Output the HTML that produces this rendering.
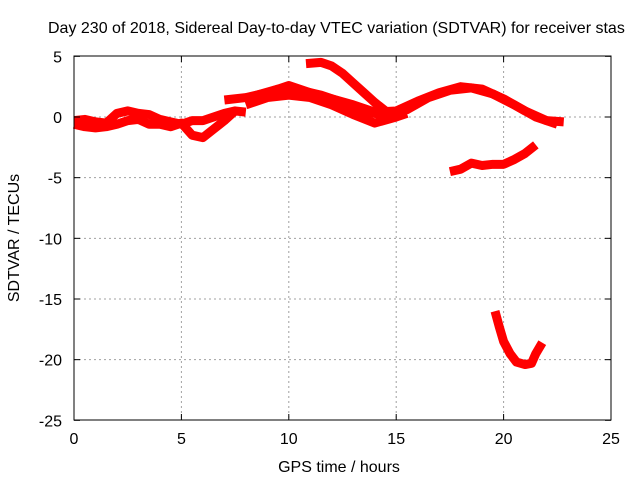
<!DOCTYPE html>
<html><head><meta charset="utf-8"><style>
body{margin:0;background:#fff}
svg text{font-family:"Liberation Sans",sans-serif;font-size:16px;fill:#000}
</style></head><body>
<svg width="640" height="480" viewBox="0 0 640 480" xmlns="http://www.w3.org/2000/svg">
<g id="grid"></g>
<g id="series"></g>
<rect x="74" y="56" width="537" height="364" fill="none" stroke="#000" stroke-width="1"/>
<g id="ticks"></g>
<text x="48" y="33">Day 230 of 2018, Sidereal Day-to-day VTEC variation (SDTVAR) for receiver stas</text>
<text x="339" y="472" text-anchor="middle">GPS time / hours</text>
<text transform="translate(19,238) rotate(-90)" text-anchor="middle">SDTVAR / TECUs</text>
</svg>
<script>
const xTicks=[0,5,10,15,20,25];
const yTicks=[5,0,-5,-10,-15,-20,-25];
const sA=[[0,-0.3],[0.5,-0.2],[1,-0.4],[1.5,-0.5],[2,0.3],[2.5,0.5],[3,0.3],[3.5,0.2],[4,-0.2],[4.5,-0.4],[5,-0.6],[5.5,-0.3],[6,-0.3],[6.5,0],[7,0.3],[7.5,0.5],[8,0.4]];
const sB=[[0,-0.6],[0.5,-0.8],[1,-0.9],[1.5,-0.8],[2,-0.6],[2.5,-0.3],[3,-0.2],[3.5,-0.6],[4,-0.6],[4.5,-0.8],[5,-0.5],[5.5,-1.5],[6,-1.7],[6.5,-1.0],[7,-0.3],[7.5,0.5]];
const sC=[[7,1.4],[8,1.6],[9,2.0],[10,2.6],[11,2.0],[12,1.5],[13,1.0],[14,0.4],[15,0.5],[16,1.3],[17,2.0],[18,2.5],[19,2.3],[20,1.5],[21,0.5],[22,-0.3],[22.8,-0.4]];
const sD=[[8,1.0],[9,1.6],[10,1.8],[11,1.6],[12,1.0],[13,0.2],[14,-0.5],[15,0],[15.5,0.3]];
const sH=[[8.5,1.8],[9.5,2.3],[10.5,2.2],[11.5,1.8],[12.5,1.2],[13.5,0.5],[14.5,0.1],[15.5,0.6],[16.5,1.6],[17.5,2.2],[18.5,2.4],[19.5,1.9],[20.5,1.0],[21.5,0],[22.5,-0.6]];
const sE=[[10.8,4.4],[11.5,4.5],[12,4.2],[12.5,3.6],[13,2.8],[13.5,2.0],[14,1.2],[14.5,0.5]];
const sF=[[17.5,-4.5],[18,-4.3],[18.5,-3.8],[19,-4.0],[19.5,-3.9],[20,-3.9],[20.5,-3.5],[21,-3.0],[21.5,-2.3]];
const sG=[[19.6,-16.0],[19.8,-17.3],[20,-18.5],[20.3,-19.5],[20.6,-20.2],[21,-20.4],[21.3,-20.3],[21.5,-19.5],[21.8,-18.6]];
const NS="http://www.w3.org/2000/svg";
const X=v=>74+v*(537/25), Y=v=>117-v*(364/30);
const grid=document.getElementById('grid'),ticks=document.getElementById('ticks'),ser=document.getElementById('series');
function mk(t,a,p){const e=document.createElementNS(NS,t);for(const k in a)e.setAttribute(k,a[k]);p.appendChild(e);return e;}
xTicks.forEach(v=>{
 if(v>0&&v<25){const l=mk('line',{x1:X(v),x2:X(v),y1:56,y2:420,stroke:'#a0a0a0','stroke-dasharray':'2,3'},grid);
 
 }
 const t1=mk('line',{x1:X(v),x2:X(v),y1:420,y2:414,stroke:'#000'},ticks);
 
 
 const t2=mk('line',{x1:X(v),x2:X(v),y1:56,y2:62,stroke:'#000'},ticks);
 
 
 const tx=mk('text',{x:X(v),y:444,'text-anchor':'middle'},ticks);tx.textContent=v;
 
 
});
yTicks.forEach(v=>{
 if(v<5&&v>-25){const l=mk('line',{x1:74,x2:611,y1:Y(v),y2:Y(v),stroke:'#a0a0a0','stroke-dasharray':'2,3'},grid);
 
 }
 const t1=mk('line',{x1:74,x2:80,y1:Y(v),y2:Y(v),stroke:'#000'},ticks);
 
 
 const t2=mk('line',{x1:605,x2:611,y1:Y(v),y2:Y(v),stroke:'#000'},ticks);
 
 
 const tx=mk('text',{x:62,y:Y(v)+6,'text-anchor':'end'},ticks);tx.textContent=v;
 
 
});
[sA,sB,sC,sD,sH,sE,sF,sG].forEach((s,i)=>{
 const p=mk('polyline',{points:s.map(d=>X(d[0])+','+Y(d[1])).join(' '),fill:'none',stroke:'#ff0000','stroke-width':9,'stroke-linejoin':'round','stroke-linecap':'butt'},ser);
 
 
});
</script>
</body></html>
